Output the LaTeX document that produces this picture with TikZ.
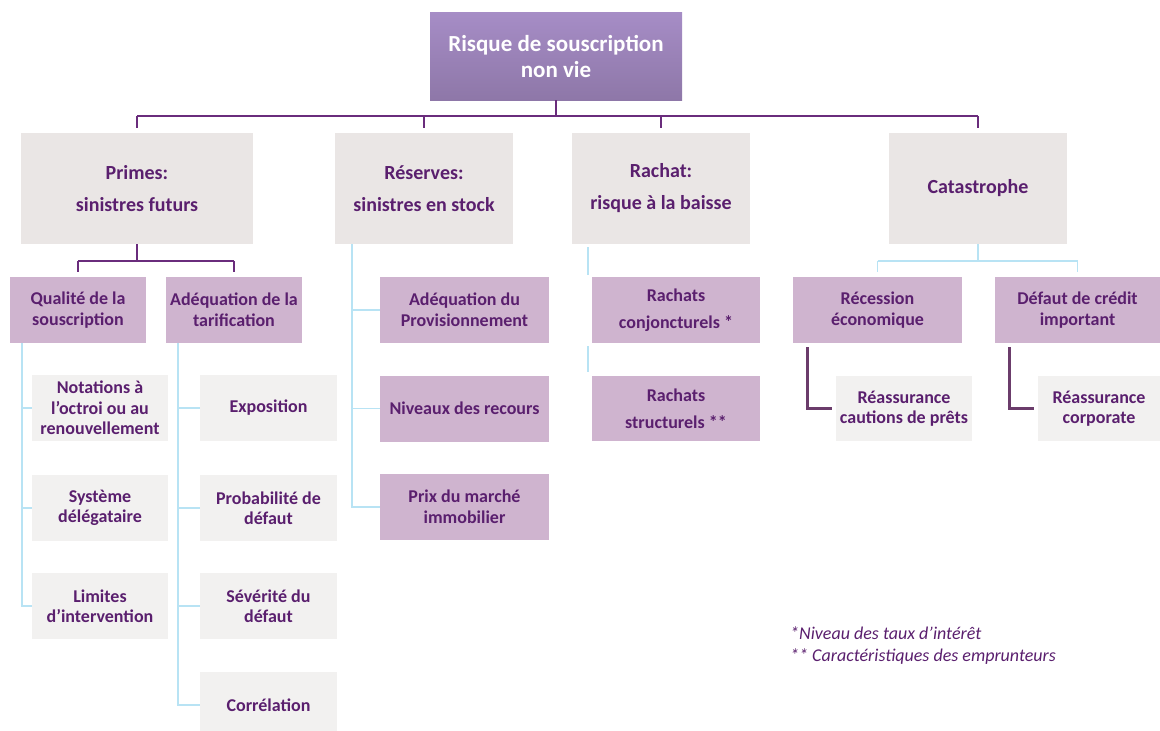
\documentclass[tikz,border=0pt]{standalone}
\usepackage{fontspec}
\setmainfont{Carlito}
\definecolor{topA}{HTML}{A68DC6}
\definecolor{topB}{HTML}{8E77A8}
\definecolor{lvlone}{HTML}{EAE6E5}
\definecolor{lilac}{HTML}{CFB4CF}
\definecolor{pale}{HTML}{F2F1F0}
\definecolor{txt}{HTML}{5A1F6E}
\definecolor{pline}{HTML}{6A2C7C}
\definecolor{bline}{HTML}{B8E3F4}
\definecolor{dline}{HTML}{6B3C6B}
\tikzset{
  topbox/.style={top color=topA,bottom color=topB,draw=none,text=white,
    font=\fontsize{23}{26}\selectfont\bfseries,align=center,
    minimum width=252pt,minimum height=88pt,inner sep=0pt},
  onebox/.style={fill=lvlone,draw=none,text=txt,
    font=\fontsize{20}{32}\selectfont\bfseries,align=center,
    minimum height=111pt,inner sep=0pt},
  twobox/.style={fill=lilac,draw=none,text=txt,
    font=\fontsize{18}{21}\selectfont\bfseries,align=center,
    minimum height=66pt,inner sep=0pt},
  leafbox/.style={fill=pale,draw=none,text=txt,
    font=\fontsize{18}{20.5}\selectfont\bfseries,align=center,
    minimum height=66pt,inner sep=0pt},
  pconn/.style={draw=pline,line width=1.6pt},
  bconn/.style={draw=bline,line width=1.5pt},
  dconn/.style={draw=dline,line width=3pt},
}
\begin{document}
\begin{tikzpicture}[x=1pt,y=-1pt]
\useasboundingbox (0,0) rectangle (1160,731);
% top
\node[topbox] (top) at (556,56) {Risque de souscription\\non vie};
% level one
\node[onebox,minimum width=232pt] (primes) at (137,188.5) {Primes:\\sinistres futurs};
\node[onebox,minimum width=178pt] (reserves) at (424,188.5) {Réserves:\\sinistres en stock};
\node[onebox,minimum width=178pt] (rachat) at (661,188.5) {Rachat:\\risque à la baisse};
\node[onebox,minimum width=178pt] (cata) at (978,188.5) {Catastrophe};
% level two
\node[twobox,minimum width=136pt] (qual) at (78,310) {Qualité de la\\souscription};
\node[twobox,minimum width=136pt] (adeqt) at (234,310) {Adéquation de la\\tarification};
\node[twobox,minimum width=169pt] (adeqp) at (464.5,310) {Adéquation du\\Provisionnement};
\node[twobox,minimum width=169pt] (niveaux) at (464.5,408.5) {Niveaux des recours};
\node[twobox,minimum width=169pt] (prix) at (464.5,507) {Prix du marché\\immobilier};
\node[twobox,minimum width=168pt,font=\fontsize{18}{27}\selectfont\bfseries] (conj) at (676,310) {Rachats\\conjoncturels *};
\node[twobox,minimum width=168pt,minimum height=65pt,font=\fontsize{18}{27}\selectfont\bfseries] (struct) at (676,408.5) {Rachats\\structurels **};
\node[twobox,minimum width=169pt] (recess) at (877.5,310) {Récession\\économique};
\node[twobox,minimum width=165pt] (defaut) at (1077.5,310) {Défaut de crédit\\important};
% leaves
\node[leafbox,minimum width=136pt] (notations) at (100,408) {Notations à\\l’octroi ou au\\renouvellement};
\node[leafbox,minimum width=136pt] (systeme) at (100,508) {Système\\délégataire};
\node[leafbox,minimum width=136pt] (limites) at (100,606) {Limites\\d’intervention};
\node[leafbox,minimum width=137pt] (expo) at (268.5,408) {Exposition};
\node[leafbox,minimum width=137pt] (proba) at (268.5,508) {Probabilité de\\défaut};
\node[leafbox,minimum width=137pt] (sev) at (268.5,606) {Sévérité du\\défaut};
\node[leafbox,minimum width=137pt] (corr) at (268.5,705) {Corrélation};
\node[leafbox,minimum width=136pt,minimum height=65pt] (reascaut) at (904,408.5) {Réassurance\\cautions de prêts};
\node[leafbox,minimum width=122pt,minimum height=65pt] (reascorp) at (1099,408.5) {Réassurance\\corporate};
% footnote
\node[anchor=west,align=left,text=txt,inner sep=0pt,
  font=\fontsize{18}{22}\selectfont\itshape] (note) at (790,646)
  {*Niveau des taux d’intérêt\\** Caractéristiques des emprunteurs};
% top connectors
\coordinate (bus) at (0,116);
\draw[pconn] (top.south) -- (top.south |- bus);
\draw[pconn] (primes.north |- bus) -- (cata.north |- bus);
\foreach \n in {primes,reserves,rachat,cata}
  \draw[pconn] (\n.north |- bus) -- ([yshift=5pt]\n.north);
% primes sub-connectors
\coordinate (pbus) at (0,261);
\draw[pconn] (primes.south) -- (primes.south |- pbus);
\draw[pconn] (qual.north |- pbus) -- (adeqt.north |- pbus);
\foreach \n in {qual,adeqt}
  \draw[pconn] (\n.north |- pbus) -- ([yshift=5pt]\n.north);
% light blue trees
\foreach \n in {notations,systeme,limites}
  \draw[bconn] ([xshift=12pt]qual.south west) |- (\n.west);
\foreach \n in {expo,proba,sev,corr}
  \draw[bconn] ([xshift=12pt]adeqt.south west) |- (\n.west);
\foreach \n in {adeqp,niveaux,prix}
  \draw[bconn] ([xshift=17pt]reserves.south west) |- (\n.west);
\coordinate (rx) at ([xshift=16pt,yshift=-3pt]rachat.south west);
\draw[bconn] (rx) -- ([yshift=2pt]rx |- conj.north);
\draw[bconn] ([yshift=-3pt]rx |- conj.south) -- ([yshift=4pt]rx |- struct.north);
% catastrophe connectors
\draw[bconn] (cata.south) -- (cata.south |- pbus);
\draw[bconn] (recess.north |- pbus) -- (defaut.north |- pbus);
\foreach \n in {recess,defaut}
  \draw[bconn] (\n.north |- pbus) -- ([yshift=5pt]\n.north);
% dark elbows
\draw[dconn] ([xshift=15pt,yshift=-4pt]recess.south west) |- ([xshift=-4pt]reascaut.west);
\draw[dconn] ([xshift=15pt,yshift=-4pt]defaut.south west) |- ([xshift=-4pt]reascorp.west);
\end{tikzpicture}
\end{document}
